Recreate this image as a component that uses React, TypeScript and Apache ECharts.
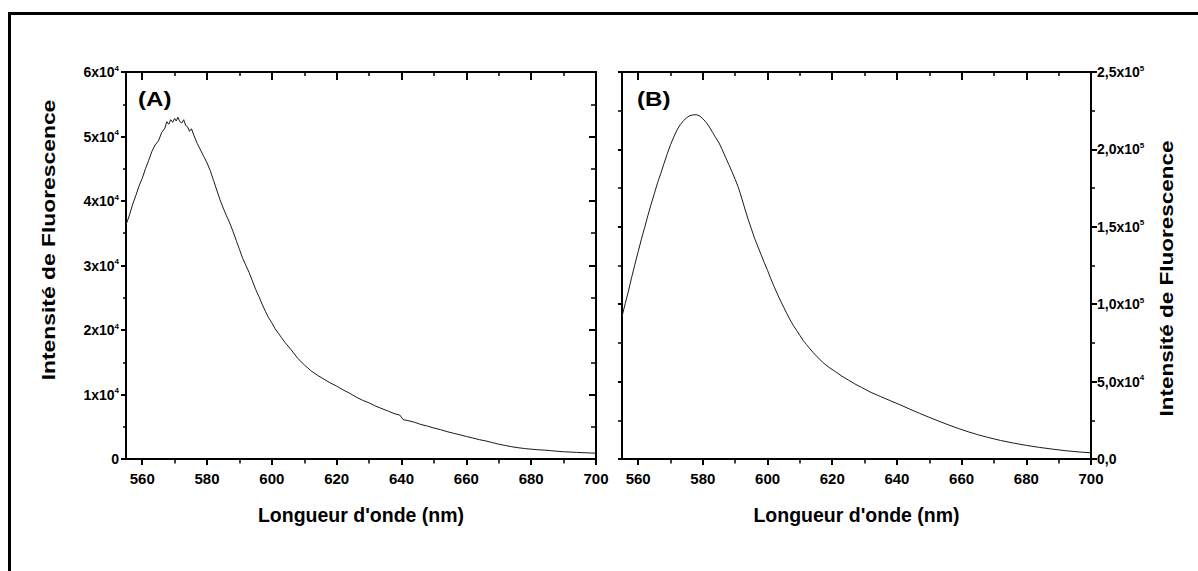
import React, { useEffect, useRef } from 'react';
import * as echarts from 'echarts';

// ---- data ----
const waveA = [555,556,557,558,559,560,561,562,563,564,565,566,567,567.6,568.2,568.8,569.4,570,570.5,571,571.6,572.2,572.8,573.4,574,574.6,575.2,576,577,578,579,580,581,582,583,584,585,586,587,588,589,590,591,592,593,594,595,596,597,598,599,600,601,602,603,604,606,608,610,612,614,616,618,620,622,624,626,628,630,632,634,636,638,639.5,640.5,642,644,646,648,650,652,654,656,658,660,662,664,666,668,670,672,674,676,678,680,682,684,686,688,690,692,694,696,698,700];
const intensA = [36300,37700,39400,40800,42300,43500,45000,46300,47700,48700,49300,50600,51300,52300,51900,52600,52200,52800,52400,53000,52300,52100,52600,51700,51500,50800,51200,50100,48900,47900,46900,45900,44700,43200,41700,40200,38900,37700,36600,35300,33900,32500,31100,30000,28900,27600,26300,25200,24000,22900,21900,21100,20200,19500,18800,18100,16900,15600,14600,13700,13000,12400,11800,11300,10700,10200,9600,9100,8700,8200,7800,7400,7000,6800,6100,5950,5700,5350,5100,4800,4550,4250,4000,3750,3500,3250,3000,2800,2550,2300,2100,1900,1750,1620,1520,1440,1380,1300,1200,1120,1080,1020,980,940,900];

const waveB = [555,556,557,558,559,560,561,562,563,564,565,566,567,568,569,570,571,572,573,574,575,576,577,578,579,580,581,582,583,584,585,586,587,588,589,590,591,592,593,594,595,596,597,598,599,600,601,602,603,604,605,606,607,608,609,610,611,612,613,614,615,617,619,621,623,625,627,629,632,635,638,641,644,647,650,653,656,659,662,665,668,672,676,680,684,688,692,696,700];
const intensB = [92000,100500,108500,117500,125800,134000,142000,149500,157300,164500,171500,178500,184500,191000,197200,203000,208000,212500,216000,218500,220500,221800,222300,222400,221600,219800,217500,214500,211000,207500,204200,199800,195000,190300,185600,180600,175300,168500,161500,154800,148700,142500,137300,132000,126800,121800,116500,111500,106800,102200,98000,93800,89800,86200,83000,79800,76600,74000,71500,69000,66800,62500,59200,56400,53500,51000,48500,46300,43000,40300,37600,35000,32200,29500,26900,24400,22000,19700,17600,15700,14000,12000,10300,8800,7500,6400,5400,4600,4000];

const xMajorTicks = [560, 580, 600, 620, 640, 660, 680, 700];
const xMinorTicks = [570, 590, 610, 630, 650, 670, 690];

const yTicksA = [0, 10000, 20000, 30000, 40000, 50000, 60000];
const yMantA = ['0', '1x10', '2x10', '3x10', '4x10', '5x10', '6x10'];
const yExpA = ['', '4', '4', '4', '4', '4', '4'];

const yTicksB = [0, 50000, 100000, 150000, 200000, 250000];
const yMantB = ['0,0', '5,0x10', '1,0x10', '1,5x10', '2,0x10', '2,5x10'];
const yExpB = ['', '4', '5', '5', '5', '5'];

const xTitle = "Longueur d'onde (nm)";
const yTitle = 'Intensité de Fluorescence';
const panelLabels = ['(A)', '(B)'];

const FONT = '"Liberation Sans", Arial, Helvetica, sans-serif';

function richLabel(ticks: number[], mant: string[], exp: string[]) {
  return (v: number) => {
    const i = ticks.findIndex((t) => Math.abs(t - v) < 1e-6);
    if (i < 0) return '';
    return exp[i] ? `{n|${mant[i]}}{s|${exp[i]}}` : `{n|${mant[i]}}`;
  };
}

const rich = {
  n: { fontSize: 14, fontWeight: 'bold', fontFamily: FONT, color: '#000', lineHeight: 16 },
  s: { fontSize: 8, fontWeight: 'bold', fontFamily: FONT, color: '#000', lineHeight: 8, verticalAlign: 'top' },
};

const BLACK = '#000';

function xAxes(grid: number) {
  const base = {
    gridIndex: grid,
    type: 'value',
    min: 555,
    max: 700,
    splitLine: { show: false },
  };
  return [
    {
      ...base,
      position: 'bottom',
      axisLine: { show: true, onZero: false, lineStyle: { color: BLACK, width: 2 } },
      axisTick: { show: true, inside: false, length: 6, customValues: xMajorTicks, lineStyle: { color: BLACK, width: 2 } },
      axisLabel: { show: true, customValues: xMajorTicks, margin: 12, fontSize: 15, fontWeight: 'bold', fontFamily: FONT, color: BLACK },
    },
    {
      ...base,
      position: 'bottom',
      axisLine: { show: false, onZero: false },
      axisTick: { show: true, inside: false, length: 4.5, customValues: xMinorTicks, lineStyle: { color: BLACK, width: 1.5 } },
      axisLabel: { show: false },
    },
    {
      ...base,
      position: 'top',
      axisLine: { show: true, onZero: false, lineStyle: { color: BLACK, width: 2 } },
      axisTick: { show: true, inside: true, length: 8, customValues: xMajorTicks, lineStyle: { color: BLACK, width: 2 } },
      axisLabel: { show: false },
    },
    {
      ...base,
      position: 'top',
      axisLine: { show: false, onZero: false },
      axisTick: { show: true, inside: true, length: 4, customValues: xMinorTicks, lineStyle: { color: BLACK, width: 1.5 } },
      axisLabel: { show: false },
    },
  ];
}

function yAxis(grid: number, position: string, max: number, interval: number, inside: boolean, len: number, minorLen: number, label: any) {
  return {
    gridIndex: grid,
    type: 'value',
    position,
    min: 0,
    max,
    interval,
    splitLine: { show: false },
    axisLine: { show: true, onZero: false, lineStyle: { color: BLACK, width: 2 } },
    axisTick: { show: true, inside, length: len, lineStyle: { color: BLACK, width: 2 } },
    minorTick: { show: true, splitNumber: 2, length: minorLen, lineStyle: { color: BLACK, width: 1.5 } },
    minorSplitLine: { show: false },
    axisLabel: label,
  };
}

export default function App() {
  const ref = useRef<HTMLDivElement>(null);

  useEffect(() => {
    if (!ref.current) return;
    const chart = echarts.init(ref.current, undefined, { renderer: 'svg' });

    const textStyle = (size: number, align: string) => ({
      fontSize: size, fontWeight: 'bold', fontFamily: FONT, fill: BLACK,
      align, verticalAlign: 'middle', textAlign: align, textVerticalAlign: 'middle',
    });

    const option: any = {
      animation: false,
      backgroundColor: '#fff',
      grid: [
        { left: 126, top: 72, width: 470, height: 387 },
        { left: 622, top: 72, width: 469, height: 387 },
      ],
      xAxis: [...xAxes(0), ...xAxes(1)],
      yAxis: [
        yAxis(0, 'left', 60000, 10000, false, 5, 3, {
          show: true, margin: 7, formatter: richLabel(yTicksA, yMantA, yExpA), rich,
        }),
        yAxis(0, 'right', 60000, 10000, true, 7, 5, { show: false }),
        yAxis(1, 'left', 250000, 50000, false, 4, 4, { show: false }),
        yAxis(1, 'right', 250000, 50000, false, 6, 4, {
          show: true, margin: 6, formatter: richLabel(yTicksB, yMantB, yExpB), rich,
        }),
      ],
      series: [
        {
          type: 'line',
          xAxisIndex: 0,
          yAxisIndex: 0,
          showSymbol: false,
          symbol: 'none',
          lineStyle: { color: '#1a1a1a', width: 1 },
          data: waveA.map((w, i) => [w, intensA[i]]),
        },
        {
          type: 'line',
          xAxisIndex: 4,
          yAxisIndex: 3,
          showSymbol: false,
          symbol: 'none',
          lineStyle: { color: '#1a1a1a', width: 1 },
          data: waveB.map((w, i) => [w, intensB[i]]),
        },
      ],
      graphic: [
        { type: 'line', shape: { x1: 8, y1: 13.5, x2: 1198, y2: 13.5 }, style: { stroke: BLACK, lineWidth: 3 } },
        { type: 'line', shape: { x1: 9.5, y1: 12, x2: 9.5, y2: 571 }, style: { stroke: BLACK, lineWidth: 3 } },
        { type: 'text', x: 138, y: 99, scaleX: 1.15, style: { text: panelLabels[0], ...textStyle(21, 'left') } },
        { type: 'text', x: 637, y: 99, scaleX: 1.15, style: { text: panelLabels[1], ...textStyle(21, 'left') } },
        { type: 'text', x: 361, y: 514.5, style: { text: xTitle, ...textStyle(19.5, 'center') } },
        { type: 'text', x: 856.5, y: 514.5, style: { text: xTitle, ...textStyle(19.5, 'center') } },
        { type: 'text', x: 48.5, y: 240, rotation: Math.PI / 2, scaleX: 1.27, style: { text: yTitle, ...textStyle(18, 'center') } },
        { type: 'text', x: 1166.5, y: 278.5, rotation: Math.PI / 2, scaleX: 1.25, style: { text: yTitle, ...textStyle(18, 'center') } },
      ],
    };

    chart.setOption(option);
    return () => chart.dispose();
  }, []);

  return (
    <div
      ref={ref}
      style={{ position: 'absolute', left: 0, top: 0, width: 1198, height: 571, background: '#fff' }}
    />
  );
}
